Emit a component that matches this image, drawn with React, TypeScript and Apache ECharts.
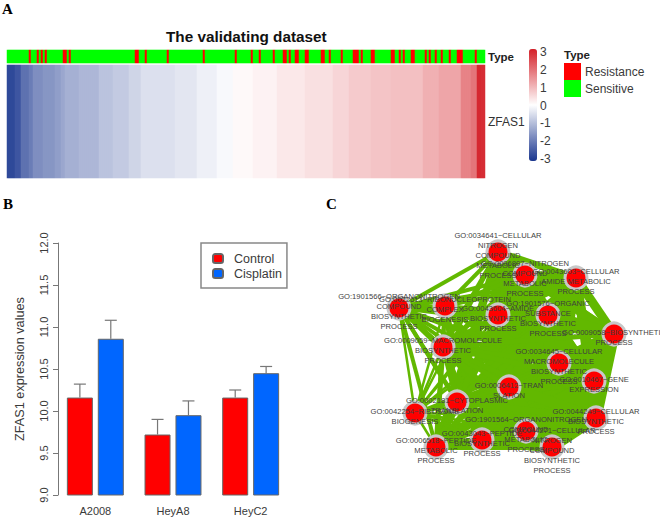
import React, { useEffect, useRef } from "react";
import * as echarts from "echarts";

// Panel A: one column per sample, sorted by ZFAS1
const columnCount = 239;
const resistanceColumns = [11, 15, 17, 19, 28, 29, 31, 64, 65, 69, 80, 98, 114, 122, 126, 133, 138, 139, 141, 144, 145, 149, 150, 157, 158, 161, 167, 173, 174, 175, 177, 182, 183, 192, 193, 196, 198, 202, 203, 209, 211, 214, 217, 221, 225, 226, 227, 234];
// runs of equal z-score
const zBandValues = [-2.72, -2.53, -2.11, -1.94, -1.68, -1.57, -1.45, -1.31, -1.18, -1.07, -0.89, -0.79, -0.63, -0.46, -0.37, -0.22, -0.09, 0.08, 0.17, 0.31, 0.42, 0.56, 0.71, 0.79, 0.85, 1.06, 1.21, 1.67, 1.86, 2.89, 2.83];
const zBandColumns = [4, 3, 4, 2, 5, 6, 3, 2, 7, 10, 7, 8, 6, 17, 11, 10, 8, 10, 12, 14, 14, 8, 11, 10, 16, 8, 11, 5, 3, 2, 2];
const colorbarTicks = [-3, -2, -1, 0, 1, 2, 3];

// Panel B
const cellLines = ["A2008", "HeyA8", "HeyC2"];
const controlValues = [10.16, 9.72, 10.16];
const cisplatinValues = [10.86, 9.95, 10.45];
const controlErrorTops = [10.32, 9.9, 10.25];
const cisplatinErrorTops = [11.08, 10.12, 10.53];

// Panel C
const termLabels = [
  "GO:0034641~CELLULAR\nNITROGEN\nCOMPOUND\nMETABOLIC\nPROCESS",
  "GO:0006807~NITROGEN\nCOMPOUND\nMETABOLIC\nPROCESS",
  "GO:0043603~CELLULAR\nAMIDE METABOLIC\nPROCESS",
  "GO:1901566~ORGANONITROGEN\nCOMPOUND\nBIOSYNTHETIC\nPROCESS",
  "GO:0022613~RIBONUCLEOPROTEIN\nCOMPLEX\nBIOGENESIS",
  "GO:0043604~AMIDE\nBIOSYNTHETIC\nPROCESS",
  "GO:1901576~ORGANIC\nSUBSTANCE\nBIOSYNTHETIC\nPROCESS",
  "GO:0009058~BIOSYNTHETIC\nPROCESS",
  "GO:0009059~MACROMOLECULE\nBIOSYNTHETIC\nPROCESS",
  "GO:0034645~CELLULAR\nMACROMOLECULE\nBIOSYNTHETIC\nPROCESS",
  "GO:0010467~GENE\nEXPRESSION",
  "GO:0006412~TRAN\nSLATION",
  "GO:0002181~CYTOPLASMIC\nTRANSLATION",
  "GO:0042254~RIBOSOME\nBIOGENESIS",
  "GO:0006518~PEPTIDE\nMETABOLIC\nPROCESS",
  "GO:0043043~PEPTIDE\nBIOSYNTHETIC\nPROCESS",
  "GO:1901564~ORGANONITROGEN\nCOMPOUND\nMETABOLIC\nPROCESS",
  "GO:0044271~CELLULAR\nNITROGEN\nCOMPOUND\nBIOSYNTHETIC\nPROCESS",
  "GO:0044249~CELLULAR\nBIOSYNTHETIC\nPROCESS",
];
const termX = [498, 525, 576, 399, 445, 498, 548, 614, 443, 559, 594, 509, 457, 415, 436, 482, 526, 552, 596];
const termY = [252, 275, 278, 308, 306, 315, 315, 334, 347, 363, 381, 387, 402, 413, 447, 440, 431, 447, 418];
const termLinkWeights = [7, 9, 9, 4, 4, 11, 12, 11, 5, 14, 14, 11, 6, 2.5, 6, 11, 14, 11, 13];

const sansFont = "'Liberation Sans', Arial, sans-serif";
const serifFont = "'Liberation Serif', serif";
const labelColor = "#3a3a3a";

export default function App() {
  const ref = useRef<HTMLDivElement>(null);
  useEffect(() => {
    const chart = echarts.init(ref.current!, null, { renderer: "svg" });

    const columns = Array.from({ length: columnCount }, (_, i) => String(i));
    const typeData = columns.map((_, i) => [i, 0, resistanceColumns.includes(i) ? 1 : 0]);
    const zfasData: number[][] = [];
    zBandValues.forEach((v, b) => {
      for (let k = 0; k < zBandColumns[b]; k++) zfasData.push([zfasData.length, 0, v]);
    });

    const links: any[] = [];
    for (let a = 0; a < termLabels.length; a++) {
      for (let b = a + 1; b < termLabels.length; b++) {
        links.push({
          source: a,
          target: b,
          lineStyle: { width: Math.min(termLinkWeights[a], termLinkWeights[b]) },
        });
      }
    }

    const hiddenValue = { show: false };
    const errorSeriesData = [
      ...cellLines.map((_, i) => [i, -1, controlValues[i], controlErrorTops[i]]),
      ...cellLines.map((_, i) => [i, 1, cisplatinValues[i], cisplatinErrorTops[i]]),
    ];

    chart.setOption({
      animation: false,
      backgroundColor: "#ffffff",
      textStyle: { fontFamily: sansFont },
      title: [
        { text: "A", left: 2, top: 1, padding: 0, textStyle: { fontFamily: serifFont, fontSize: 15, fontWeight: "bold", color: "#000" } },
        { text: "B", left: 3, top: 196, padding: 0, textStyle: { fontFamily: serifFont, fontSize: 15, fontWeight: "bold", color: "#000" } },
        { text: "C", left: 326, top: 196, padding: 0, textStyle: { fontFamily: serifFont, fontSize: 15, fontWeight: "bold", color: "#000" } },
        { text: "The validating dataset", left: 166, top: 29, padding: 0, textStyle: { fontFamily: sansFont, fontSize: 15.3, fontWeight: "bold", color: "#111" } },
        { text: "Type", left: 488, top: 51, padding: 0, textStyle: { fontFamily: sansFont, fontSize: 11.5, fontWeight: "bold", color: "#222" } },
        { text: "Type", left: 564, top: 49, padding: 0, textStyle: { fontFamily: sansFont, fontSize: 11.5, fontWeight: "bold", color: "#222" } },
        { text: "ZFAS1", left: 488, top: 116, padding: 0, textStyle: { fontFamily: sansFont, fontSize: 12, fontWeight: "normal", color: "#333" } },
      ],
      grid: [
        { left: 7, top: 50, width: 478, height: 13 },
        { left: 7, top: 65, width: 478, height: 113 },
        { left: 56.5, top: 243, width: 233, height: 252 },
        { left: 537, top: 52, width: 1, height: 107 },
        { left: 330, top: 220, width: 330, height: 270 },
      ],
      xAxis: [
        { gridIndex: 0, type: "category", data: columns, ...hiddenValue },
        { gridIndex: 1, type: "category", data: columns, ...hiddenValue },
        {
          gridIndex: 2,
          type: "category",
          data: cellLines,
          axisLine: { show: false },
          axisTick: { show: false },
          axisLabel: { fontSize: 11, color: labelColor, margin: 10, fontFamily: sansFont },
        },
        { gridIndex: 3, type: "value", ...hiddenValue },
        { gridIndex: 4, type: "value", min: 330, max: 660, ...hiddenValue },
      ],
      yAxis: [
        { gridIndex: 0, type: "category", data: ["Type"], ...hiddenValue },
        { gridIndex: 1, type: "category", data: ["ZFAS1"], ...hiddenValue },
        {
          gridIndex: 2,
          type: "value",
          min: 9,
          max: 12,
          interval: 0.5,
          offset: -1.5,
          name: "ZFAS1 expression values",
          nameLocation: "middle",
          nameGap: 32,
          nameTextStyle: { fontSize: 12.7, color: labelColor, fontFamily: sansFont },
          splitLine: { show: false },
          axisLine: { show: true, lineStyle: { color: "#777", width: 1 } },
          axisTick: { show: true, length: 5, lineStyle: { color: "#777", width: 1 } },
          axisLabel: {
            fontSize: 11,
            color: labelColor,
            rotate: 90,
            margin: 9,
            fontFamily: sansFont,
            formatter: (v: number) => v.toFixed(1),
          },
        },
        {
          gridIndex: 3,
          type: "value",
          position: "right",
          min: -3,
          max: 3,
          interval: 1,
          splitLine: { show: false },
          axisLine: { show: false },
          axisTick: { show: false },
          axisLabel: {
            fontSize: 12,
            color: labelColor,
            margin: 2,
            fontFamily: sansFont,
            customValues: colorbarTicks,
          },
        },
        { gridIndex: 4, type: "value", min: 220, max: 490, inverse: true, ...hiddenValue },
      ],
      visualMap: [
        {
          type: "continuous",
          seriesIndex: 1,
          dimension: 2,
          min: -3,
          max: 3,
          left: 529,
          top: 49,
          padding: 0,
          itemWidth: 8,
          itemHeight: 112,
          calculable: false,
          hoverLink: false,
          inRange: { color: ["#1a368f", "#ffffff", "#d42028"] },
        },
        {
          type: "piecewise",
          seriesIndex: 0,
          dimension: 2,
          left: 564,
          top: 63,
          padding: 0,
          orient: "vertical",
          align: "left",
          itemWidth: 17,
          itemHeight: 17,
          itemGap: 0,
          itemSymbol: "rect",
          selectedMode: false,
          hoverLink: false,
          textGap: 4,
          textStyle: { fontSize: 12, color: labelColor, fontFamily: sansFont },
          pieces: [
            { value: 1, label: "Resistance", color: "#ff0000" },
            { value: 0, label: "Sensitive", color: "#00ff00" },
          ],
        },
      ],
      legend: {
        data: ["Control", "Cisplatin"],
        left: 201,
        top: 243,
        orient: "vertical",
        padding: [9, 5, 8, 11],
        itemWidth: 10,
        itemHeight: 9,
        itemGap: 2,
        selectedMode: false,
        borderColor: "#888",
        borderWidth: 1.5,
        textStyle: { fontSize: 12.5, color: labelColor, fontFamily: sansFont, padding: [0, 0, 0, 6] },
      },
      series: [
        { type: "heatmap", xAxisIndex: 0, yAxisIndex: 0, data: typeData, silent: true },
        { type: "heatmap", xAxisIndex: 1, yAxisIndex: 1, data: zfasData, silent: true },
        {
          name: "Control",
          type: "bar",
          xAxisIndex: 2,
          yAxisIndex: 2,
          data: controlValues,
          barWidth: 26,
          barGap: "19%",
          itemStyle: { color: "#ff0000", borderColor: "#666", borderWidth: 1 },
        },
        {
          name: "Cisplatin",
          type: "bar",
          xAxisIndex: 2,
          yAxisIndex: 2,
          data: cisplatinValues,
          barWidth: 26,
          barGap: "19%",
          itemStyle: { color: "#0066ff", borderColor: "#666", borderWidth: 1 },
        },
        {
          type: "custom",
          xAxisIndex: 2,
          yAxisIndex: 2,
          data: errorSeriesData,
          encode: { x: 0, y: 3 },
          silent: true,
          renderItem: (_: any, api: any) => {
            const band = api.size([1, 0])[0];
            const shift = api.value(1) * band * 0.199;
            const low = api.coord([api.value(0), api.value(2)]);
            const high = api.coord([api.value(0), api.value(3)]);
            const x = low[0] + shift;
            const style = { stroke: "#777", lineWidth: 1.2, fill: "none" };
            return {
              type: "group",
              children: [
                { type: "line", shape: { x1: x, y1: low[1], x2: x, y2: high[1] }, style },
                { type: "line", shape: { x1: x - 6, y1: high[1], x2: x + 6, y2: high[1] }, style },
              ],
            };
          },
        },
        {
          type: "graph",
          coordinateSystem: "cartesian2d",
          xAxisIndex: 4,
          yAxisIndex: 4,
          layout: "none",
          silent: true,
          symbol: "circle",
          symbolSize: 22,
          itemStyle: { color: "#ff0000", borderColor: "#c8c8c8", borderWidth: 3 },
          lineStyle: { color: "#62b800", opacity: 1, curveness: 0 },
          label: {
            show: true,
            position: "inside",
            fontSize: 7.6,
            lineHeight: 10,
            color: "#3f3f3f",
            fontFamily: sansFont,
            align: "center",
            offset: [0, 3],
            formatter: (p: any) => termLabels[p.dataIndex],
          },
          data: termLabels.map((name, i) => ({ name, value: [termX[i], termY[i]] })),
          links,
        },
      ],
    });
    return () => chart.dispose();
  }, []);
  return <div ref={ref} style={{ position: "absolute", left: 0, top: 0, width: 660, height: 520 }} />;
}
